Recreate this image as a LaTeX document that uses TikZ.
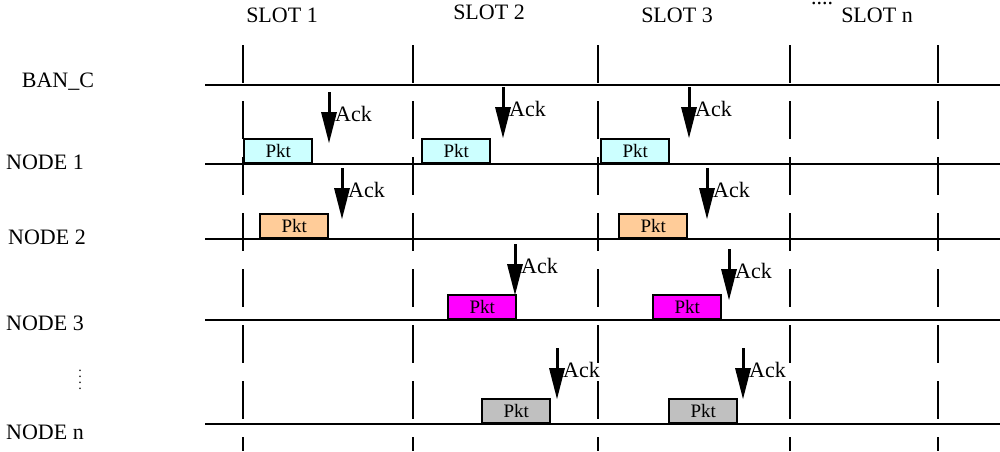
\documentclass[tikz,border=0pt]{standalone}
\usepackage{fontspec}
\setmainfont{Liberation Serif}
\begin{document}
\begin{tikzpicture}[x=1pt,y=-1pt,
  tl/.style={line width=2.8pt},
  vl/.style={line width=2.6pt,dash pattern=on 38pt off 18pt},
  pkt/.style={draw,line width=2.4pt,minimum width=68pt,minimum height=24pt,inner sep=0pt,font=\fontsize{19}{19}\selectfont,anchor=south west},
  lbl/.style={font=\fontsize{22}{22}\selectfont},
  ack/.style={line width=3pt},
  ackl/.style={font=\fontsize{22}{22}\selectfont,anchor=west,inner sep=1pt}]
\useasboundingbox (0,0) rectangle (1000,451);
\definecolor{cy}{HTML}{CCFFFF}\definecolor{og}{HTML}{FFCC99}\definecolor{mg}{HTML}{FF00FF}\definecolor{gy}{HTML}{C0C0C0}
% vertical
\foreach \x/\n in {243/v1,413/v2,598/v3,790/v4,938/v5}{
  \coordinate (\n t) at (\x,45); \coordinate (\n b) at (\x,451);
  \draw[vl] (\n t) -- (\n b);}
% horizontal
\foreach \y/\n in {85/h0,164/h1,239/h2,320/h3,424/h4}{
  \coordinate (\n l) at (205,\y); \coordinate (\n r) at (1000,\y);
  \draw[tl] (\n l) -- (\n r);}
% labels
\node[lbl] (s1) at (282,15) {SLOT 1};
\node[lbl] (s2) at (489,12) {SLOT 2};
\node[lbl] (s3) at (677,15) {SLOT 3};
\node[lbl,inner sep=0pt] (sd) at (822,4) {....};
\node[lbl] (sn) at (877,15) {SLOT n};
\node[lbl] (l0) at (58,82) {BAN\_C};
\node[lbl] (l1) at (45,162) {NODE 1};
\node[lbl] (l2) at (47,237) {NODE 2};
\node[lbl] (l3) at (45,323) {NODE 3};
\node[lbl,font=\fontsize{14}{6}\selectfont,align=center,inner sep=0pt] (ld) at (80,380) {.\\.\\.\\.};
\node[lbl] (l4) at (45,432) {NODE n};
% packets
\node[pkt,fill=cy] (p11) at (243,164) {Pkt};
\node[pkt,fill=cy] (p12) at (421,164) {Pkt};
\node[pkt,fill=cy] (p13) at (600,164) {Pkt};
\node[pkt,fill=og] (p21) at (259,239) {Pkt};
\node[pkt,fill=og] (p23) at (618,239) {Pkt};
\node[pkt,fill=mg] (p32) at (447,320) {Pkt};
\node[pkt,fill=mg] (p33) at (652,320) {Pkt};
\node[pkt,fill=gy] (p42) at (481,424) {Pkt};
\node[pkt,fill=gy] (p43) at (668,424) {Pkt};
% acks
\foreach \x/\y/\n in {329/92/a11,503/87/a12,689/87/a13,342/168/a21,707/168/a23,515/244/a32,729/249/a33,557/348/a42,743/348/a43}{
  \coordinate (\n s) at (\x,\y);
  \coordinate (\n m) at (\x,\y+20);
  \coordinate (\n e) at (\x,\y+51);
  \draw[ack] (\n s) -- (\n m);
  \fill (\x-8,\y+20) -- (\x+8,\y+20) -- (\n e) -- cycle;
  \node[ackl] (\n l) at (\x+5,\y+22) {Ack};}
\end{tikzpicture}
\end{document}
